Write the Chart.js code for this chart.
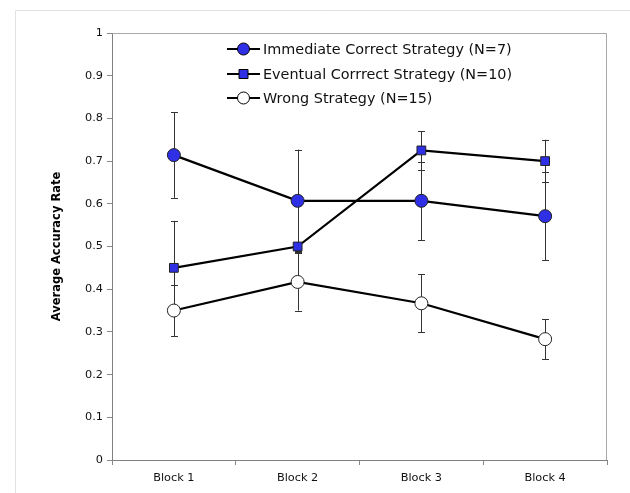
<!DOCTYPE html>
<html>
<head>
<meta charset="utf-8">
<script src="https://cdn.jsdelivr.net/npm/chart.js@4/dist/chart.umd.min.js"></script>
<style>
  html, body { margin: 0; padding: 0; background: #fff; }
  #wrap { width: 630px; height: 493px; }
</style>
</head>
<body>
<div id="wrap"><canvas id="c" width="630" height="493"></canvas></div>
<script>
const categories = ['Block 1', 'Block 2', 'Block 3', 'Block 4'];
const yTickLabels = ['0', '0.1', '0.2', '0.3', '0.4', '0.5', '0.6', '0.7', '0.8', '0.9', '1'];
const seriesNames = ['Immediate Correct Strategy (N=7)', 'Eventual Corrrect Strategy (N=10)', 'Wrong Strategy (N=15)'];
const immediate = [0.714, 0.607, 0.607, 0.571];
const immediateErr = [0.10, 0.12, 0.092, 0.103];
const eventual = [0.45, 0.50, 0.725, 0.70];
const eventualErr = [0.11, 0.01, 0.045, 0.05];
const wrong = [0.35, 0.417, 0.367, 0.283];
const wrongErr = [0.06, 0.067, 0.068, 0.047];

const FONT = '"DejaVu Sans", Verdana, sans-serif';
const BLUE = '#2f2fe6';

const frame = {
  id: 'frame',
  beforeDraw(chart) {
    const ctx = chart.ctx;
    ctx.save();
    ctx.strokeStyle = '#e2e2e2';
    ctx.lineWidth = 1;
    ctx.beginPath();
    ctx.moveTo(15.5, 493);
    ctx.lineTo(15.5, 10.5);
    ctx.lineTo(630, 10.5);
    ctx.stroke();
    ctx.restore();
  },
  afterDraw(chart) {
    const ctx = chart.ctx, a = chart.chartArea;
    ctx.save();
    ctx.strokeStyle = '#a8a8a8';
    ctx.lineWidth = 1;
    ctx.beginPath();
    ctx.moveTo(Math.round(a.left) + 0.5, Math.round(a.top) + 0.5);
    ctx.lineTo(Math.round(a.right) - 0.5, Math.round(a.top) + 0.5);
    ctx.lineTo(Math.round(a.right) - 0.5, Math.round(a.bottom));
    ctx.stroke();
    ctx.restore();
  }
};

const errorBars = {
  id: 'errorBars',
  beforeDatasetsDraw(chart) {
    const ctx = chart.ctx;
    const ys = chart.scales.y;
    const errs = [immediateErr, eventualErr, wrongErr];
    ctx.save();
    ctx.strokeStyle = '#333';
    ctx.lineWidth = 1;
    chart.data.datasets.forEach((ds, i) => {
      const meta = chart.getDatasetMeta(i);
      meta.data.forEach((pt, j) => {
        const v = ds.data[j], e = errs[i][j];
        const x = Math.round(pt.x) + 0.5;
        const y1 = ys.getPixelForValue(v + e), y2 = ys.getPixelForValue(v - e);
        ctx.beginPath();
        ctx.moveTo(x, y1); ctx.lineTo(x, y2);
        ctx.moveTo(x - 3.5, Math.round(y1) + 0.5); ctx.lineTo(x + 3.5, Math.round(y1) + 0.5);
        ctx.moveTo(x - 3.5, Math.round(y2) + 0.5); ctx.lineTo(x + 3.5, Math.round(y2) + 0.5);
        ctx.stroke();
      });
    });
    ctx.restore();
  }
};

const legendPlugin = {
  id: 'customLegend',
  afterDraw(chart) {
    const ctx = chart.ctx;
    const rows = [49, 74, 98];
    ctx.save();
    chart.data.datasets.forEach((ds, i) => {
      const y = rows[i];
      ctx.strokeStyle = '#000';
      ctx.lineWidth = 2;
      ctx.beginPath();
      ctx.moveTo(227, y); ctx.lineTo(260, y);
      ctx.stroke();
      ctx.fillStyle = ds.pointBackgroundColor;
      ctx.strokeStyle = '#000';
      ctx.lineWidth = 1;
      ctx.beginPath();
      if (ds.pointStyle === 'rect') {
        ctx.rect(239, y - 4.5, 9, 9);
      } else {
        ctx.arc(243.5, y, 6, 0, Math.PI * 2);
      }
      ctx.fill(); ctx.stroke();
      ctx.fillStyle = '#111';
      ctx.font = '14.4px ' + FONT;
      ctx.textBaseline = 'middle';
      ctx.textAlign = 'left';
      ctx.fillText(ds.label, 263, y + 1);
    });
    ctx.restore();
  }
};

new Chart(document.getElementById('c'), {
  type: 'line',
  data: {
    labels: categories,
    datasets: [
      { label: seriesNames[0], data: immediate, borderColor: '#000', borderWidth: 2.2,
        pointStyle: 'circle', pointRadius: 6.5, pointBackgroundColor: BLUE, pointBorderColor: '#222', pointBorderWidth: 1, tension: 0 },
      { label: seriesNames[1], data: eventual, borderColor: '#000', borderWidth: 2.2,
        pointStyle: 'rect', pointRadius: 6.2, pointBackgroundColor: BLUE, pointBorderColor: '#222', pointBorderWidth: 1, tension: 0 },
      { label: seriesNames[2], data: wrong, borderColor: '#000', borderWidth: 2.2,
        pointStyle: 'circle', pointRadius: 6.5, pointBackgroundColor: '#ffffff', pointBorderColor: '#222', pointBorderWidth: 1, tension: 0 }
    ]
  },
  options: {
    responsive: false,
    animation: false,
    devicePixelRatio: 1,
    layout: { padding: { left: 50, top: 33, right: 23, bottom: 0 } },
    plugins: { legend: { display: false }, tooltip: { enabled: false } },
    scales: {
      x: {
        type: 'category',
        offset: true,
        grid: { display: true, offset: true, drawOnChartArea: false, drawTicks: true, tickLength: 5, color: '#888' },
        border: { display: true, color: '#808080', width: 1 },
        ticks: { color: '#111', font: { family: FONT, size: 11.3 }, padding: 6, maxRotation: 0 },
        afterFit(scale) { scale.height = 33; }
      },
      y: {
        min: 0, max: 1,
        grid: { display: true, drawOnChartArea: false, drawTicks: true, tickLength: 5, color: '#888' },
        border: { display: true, color: '#808080', width: 1 },
        ticks: {
          stepSize: 0.1, color: '#111', font: { family: FONT, size: 11.3 }, padding: 4,
          callback: (v, i) => yTickLabels[i]
        },
        title: { display: true, text: 'Average Accuracy Rate', color: '#000', font: { family: FONT, size: 11.5, weight: 'bold' }, padding: 0 },
        afterFit(scale) { scale.width = 62; }
      }
    }
  },
  plugins: [frame, errorBars, legendPlugin]
});
</script>
</body>
</html>
